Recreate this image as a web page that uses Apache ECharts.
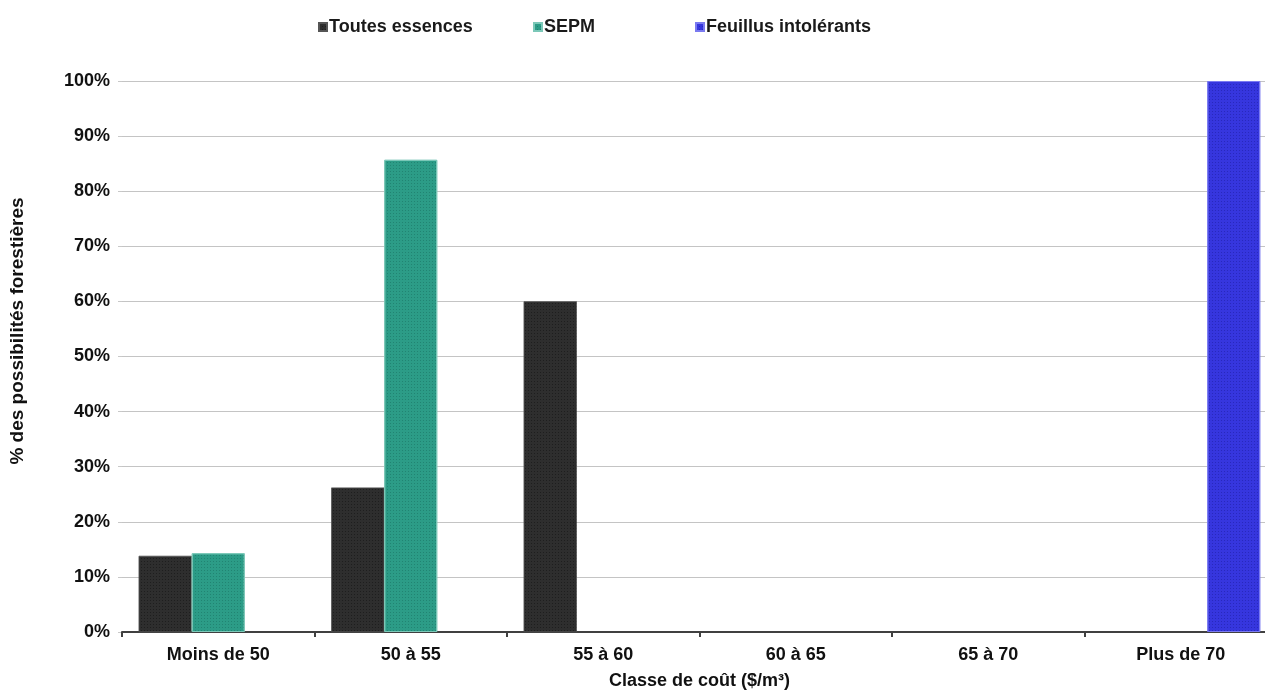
<!DOCTYPE html>
<html>
<head>
<meta charset="utf-8">
<script src="https://cdn.jsdelivr.net/npm/echarts@6/dist/echarts.min.js"></script>
<style>
html,body{margin:0;padding:0;background:#fff;}
#main{width:1265px;height:690px;}
</style>
</head>
<body>
<div id="main"></div>
<script>
const categories = ['Moins de 50', '50 à 55', '55 à 60', '60 à 65', '65 à 70', 'Plus de 70'];
const toutesEssences = [13.8, 26.2, 60.0, 0, 0, 0];
const sepm = [14.3, 85.7, 0, 0, 0, 0];
const feuillusIntolerants = [0, 0, 0, 0, 0, 100];
const seriesNames = ['Toutes essences', 'SEPM', 'Feuillus intolérants'];
const yTicks = [0, 10, 20, 30, 40, 50, 60, 70, 80, 90, 100];

const FONT = 'Liberation Sans, Arial, sans-serif';
const nz = arr => arr.map(v => v === 0 ? null : v);
const chart = echarts.init(document.getElementById('main'));
const legendText = {fontFamily: FONT, fontWeight: 'bold', fontSize: 18, color: '#1a1a1a'};
function legend(name, left) {
  return {data: [name], left: left, top: 13, icon: 'rect', itemWidth: 8, itemHeight: 8,
    itemGap: 0, selectedMode: false, textStyle: Object.assign({padding: [0, 0, 0, -3]}, legendText)};
}
function decal(c) {
  return {symbol: 'rect', symbolSize: 1, dashArrayX: [1, 2], dashArrayY: [1, 2], color: c};
}
chart.setOption({
  animation: false,
  legend: [legend(seriesNames[0], 313), legend(seriesNames[1], 528), legend(seriesNames[2], 690)],
  grid: {left: 122, top: 81, right: -12, bottom: 58, containLabel: false, outerBoundsMode: 'none'},
  graphic: [{
    type: 'text', x: 18, y: 331, rotation: Math.PI / 2,
    style: {text: '% des possibilités forestières', fontFamily: FONT, fontWeight: 'bold', fontSize: 19,
      fill: '#111', align: 'center', verticalAlign: 'middle'}
  }],
  xAxis: {
    type: 'category', data: categories,
    name: 'Classe de coût ($/m³)', nameLocation: 'middle', nameGap: 40,
    nameTextStyle: {fontFamily: FONT, fontWeight: 'bold', fontSize: 18, color: '#111'},
    axisLine: {lineStyle: {color: '#404040', width: 2}},
    axisTick: {show: true, length: 5, lineStyle: {color: '#404040', width: 2}},
    axisLabel: {fontFamily: FONT, fontWeight: 'bold', fontSize: 18, color: '#111', margin: 14}
  },
  yAxis: {
    type: 'value', min: 0, max: 100, interval: 10,
    axisLine: {show: false},
    axisTick: {show: true, length: 4, lineStyle: {color: '#c8c8c8'}},
    splitLine: {lineStyle: {color: '#c4c4c4', width: 1}},
    axisLabel: {fontFamily: FONT, fontWeight: 'bold', fontSize: 18, color: '#111', margin: 12,
      formatter: v => yTicks.includes(v) ? v + '%' : ''}
  },
  series: [
    {name: seriesNames[0], type: 'bar', data: nz(toutesEssences), barGap: '0%', barCategoryGap: '17.4%',
      itemStyle: {color: '#2e2e2e', borderColor: '#555', borderWidth: 0.5, decal: decal('rgba(0,0,0,0.35)')}},
    {name: seriesNames[1], type: 'bar', data: nz(sepm), barGap: '0%', barCategoryGap: '17.4%',
      itemStyle: {color: '#2c9c87', borderColor: '#7cc8b8', borderWidth: 1, decal: decal('rgba(0,60,50,0.25)')}},
    {name: seriesNames[2], type: 'bar', data: nz(feuillusIntolerants), barGap: '0%', barCategoryGap: '17.4%',
      itemStyle: {color: '#3636de', borderColor: '#7a7af0', borderWidth: 1, decal: decal('rgba(0,0,90,0.25)')}}
  ],
  aria: {enabled: false, decal: {show: true}}
});
</script>
</body>
</html>
